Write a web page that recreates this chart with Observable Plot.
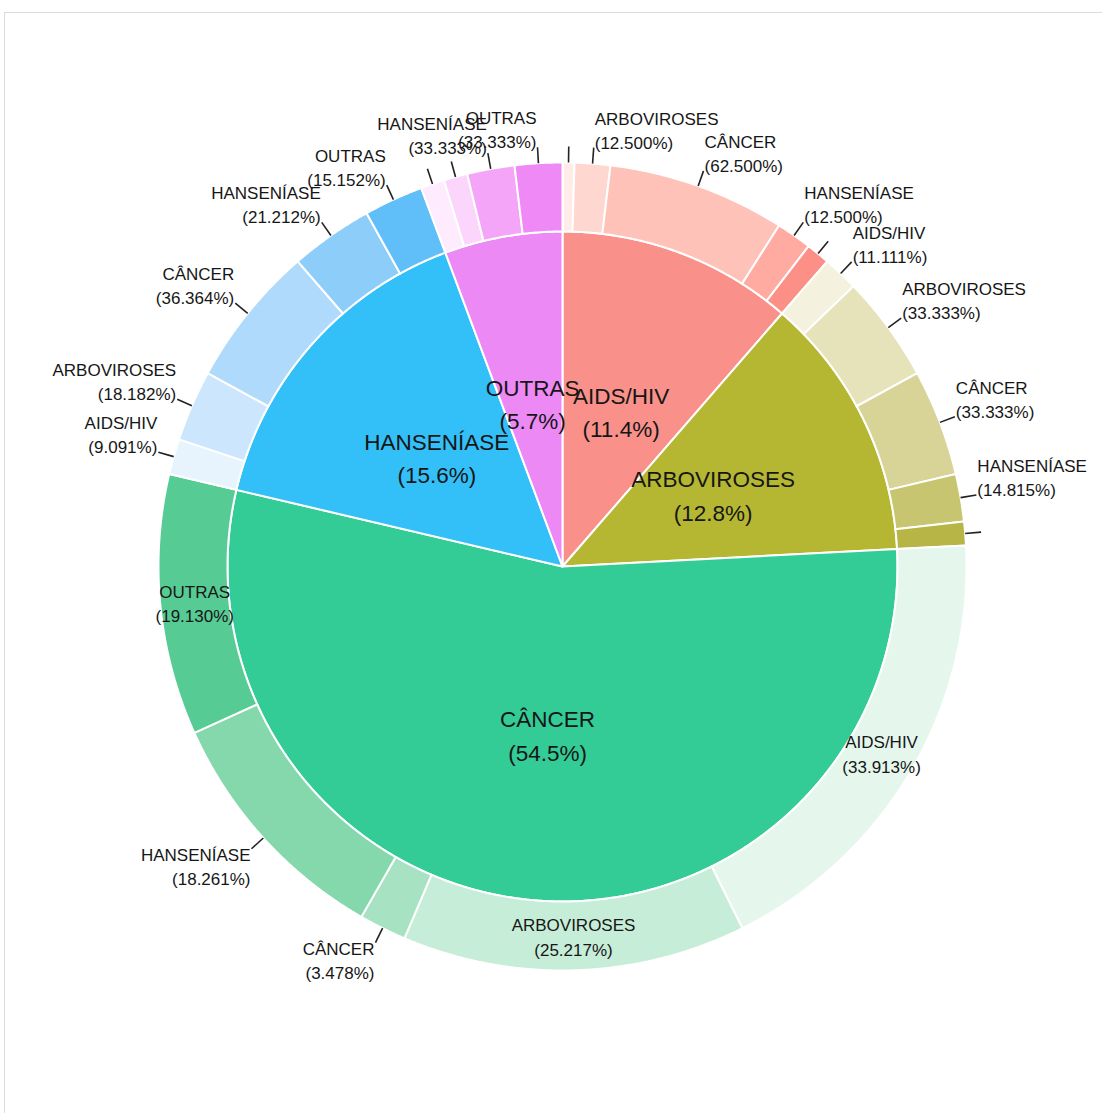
<!DOCTYPE html>
<html><head><meta charset="utf-8">
<script src="https://cdn.jsdelivr.net/npm/d3@7"></script>
<script src="https://cdn.jsdelivr.net/npm/@observablehq/plot@0.6"></script>
<style>
body{margin:0;background:#fff;overflow:hidden;font-family:"Liberation Sans",Arial,sans-serif;}
#frame{position:absolute;left:4px;top:12px;width:1200px;height:1200px;border:1px solid #dcdcdc;}
#chart{position:absolute;left:0;top:0;}
</style></head><body>
<div id="frame"></div><div id="chart"></div>
<script>
// ---- data ----
const categories = ["AIDS/HIV", "ARBOVIROSES", "CÂNCER", "HANSENÍASE", "OUTRAS"];
const baseColors = ["#F8766D", "#A3A500", "#00BF7D", "#00B0F6", "#E76BF3"];
// counts of each sub-category (same order as categories) inside each parent group
const aidsHivCounts     = [1, 3, 15, 3, 2];
const arbovirosesCounts = [3, 9, 9, 4, 2];
const cancerCounts      = [39, 29, 4, 21, 22];
const hanseniaseCounts  = [3, 6, 12, 7, 5];
const outrasCounts      = [2, 2, 0, 4, 4];
const childCounts = [aidsHivCounts, arbovirosesCounts, cancerCounts, hanseniaseCounts, outrasCounts];

// ---- layout ----
const W = 1102, H = 1113, CX = 562, CY = 566, RO = 404;
const rInner = 335 / RO, rOuter = 1, rLead = 420 / RO, rRingMid = (rInner + rOuter) / 2;
const innerAlpha = 0.8;
const outerLevels = [0.14, 0.3, 0.46, 0.63, 0.82];
const TAU = 2 * Math.PI;

function blend(hex, a) {
  const c = d3.rgb(hex);
  return d3.rgb(255 + (c.r - 255) * a, 255 + (c.g - 255) * a, 255 + (c.b - 255) * a).formatHex();
}
function tint(hex, t) { return d3.rgb(d3.interpolateLab("#ffffff", hex)(t)).formatHex(); }

const total = d3.sum(childCounts.flat());
const inner = [], outer = [];
let acc = 0;
categories.forEach((cat, i) => {
  const n = d3.sum(childCounts[i]);
  const a0 = acc / total * TAU;
  let cacc = acc;
  childCounts[i].forEach((c, j) => {
    if (c > 0) outer.push({
      id: "o" + i + "-" + j, cat: categories[j], count: c, pct: c / n * 100,
      a0: cacc / total * TAU, a1: (cacc + c) / total * TAU,
      fill: tint(baseColors[i], outerLevels[j])
    });
    cacc += c;
  });
  acc += n;
  inner.push({id: "i" + i, cat, count: n, pct: n / total * 100, a0, a1: acc / total * TAU,
    fill: blend(baseColors[i], innerAlpha)});
});

function polygon(seg, r0, r1) {
  const pts = [];
  const steps = Math.max(2, Math.ceil((seg.a1 - seg.a0) / (0.25 * Math.PI / 180)));
  for (let k = 0; k <= steps; k++) {
    const a = seg.a0 + (seg.a1 - seg.a0) * k / steps;
    pts.push({id: seg.id, fill: seg.fill, x: r1 * Math.sin(a), y: r1 * Math.cos(a)});
  }
  if (r0 === 0) pts.push({id: seg.id, fill: seg.fill, x: 0, y: 0});
  else for (let k = steps; k >= 0; k--) {
    const a = seg.a0 + (seg.a1 - seg.a0) * k / steps;
    pts.push({id: seg.id, fill: seg.fill, x: r0 * Math.sin(a), y: r0 * Math.cos(a)});
  }
  return pts;
}
const innerPts = inner.flatMap(s => polygon(s, 0, rInner));
const outerPts = outer.flatMap(s => polygon(s, rInner, rOuter));

const mid = s => (s.a0 + s.a1) / 2;
const span = s => (s.a1 - s.a0) * 180 / Math.PI;
outer.forEach(s => {
  s.m = mid(s);
  s.inside = span(s) > 36.5;
  s.labeled = !s.inside && s.count / total > 0.012;
  s.label = s.cat + "\n(" + s.pct.toFixed(3) + "%)";
  s.lx = rLead * Math.sin(s.m); s.ly = rLead * Math.cos(s.m);
  s.right = Math.sin(s.m) >= 0; s.upper = Math.cos(s.m) >= 0;
});
const leaders = outer.filter(s => !s.inside);
const outLabels = outer.filter(s => s.labeled);

const font = "'Liberation Sans', Arial, Helvetica, sans-serif";
const txt = "#161616";
const outerText = (filter, anchor, lineAnchor, dy) => Plot.text(outLabels.filter(filter), {
  x: "lx", y: "ly", text: "label", textAnchor: anchor, lineAnchor, dy,
  dx: anchor === "start" ? 1 : -1, fontSize: 17, lineHeight: 1.42, fill: txt
});

const chart = Plot.plot({
  width: W, height: H, margin: 0,
  x: {domain: [-CX / RO, (W - CX) / RO], axis: null},
  y: {domain: [-(H - CY) / RO, CY / RO], axis: null},
  color: {type: "identity"},
  style: {fontFamily: font, background: "transparent", overflow: "visible"},
  marks: [
    Plot.line(innerPts, {x: "x", y: "y", z: "id", fill: "fill", stroke: "white", strokeWidth: 2, curve: "linear-closed"}),
    Plot.line(outerPts, {x: "x", y: "y", z: "id", fill: "fill", stroke: "white", strokeWidth: 2, curve: "linear-closed"}),
    Plot.link(leaders, {
      x1: d => rOuter * Math.sin(d.m), y1: d => rOuter * Math.cos(d.m),
      x2: "lx", y2: "ly", stroke: "#222", strokeWidth: 1.6
    }),
    Plot.text(inner, {
      x: d => rInner / 2 * Math.sin(mid(d)), y: d => rInner / 2 * Math.cos(mid(d)),
      text: d => d.cat + "\n(" + d.pct.toFixed(1) + "%)",
      fontSize: 22.5, lineHeight: 1.5, fill: txt
    }),
    Plot.text(outer.filter(d => d.inside), {
      x: d => rRingMid * Math.sin(d.m), y: d => rRingMid * Math.cos(d.m),
      text: "label", fontSize: 17, lineHeight: 1.45, fill: txt
    }),
    outerText(d => d.right && d.upper, "start", "bottom", 1),
    outerText(d => !d.right && d.upper, "end", "bottom", 1),
    outerText(d => d.right && !d.upper, "start", "top", -5),
    outerText(d => !d.right && !d.upper, "end", "top", -5)
  ]
});
document.getElementById("chart").appendChild(chart);
</script>
</body></html>
